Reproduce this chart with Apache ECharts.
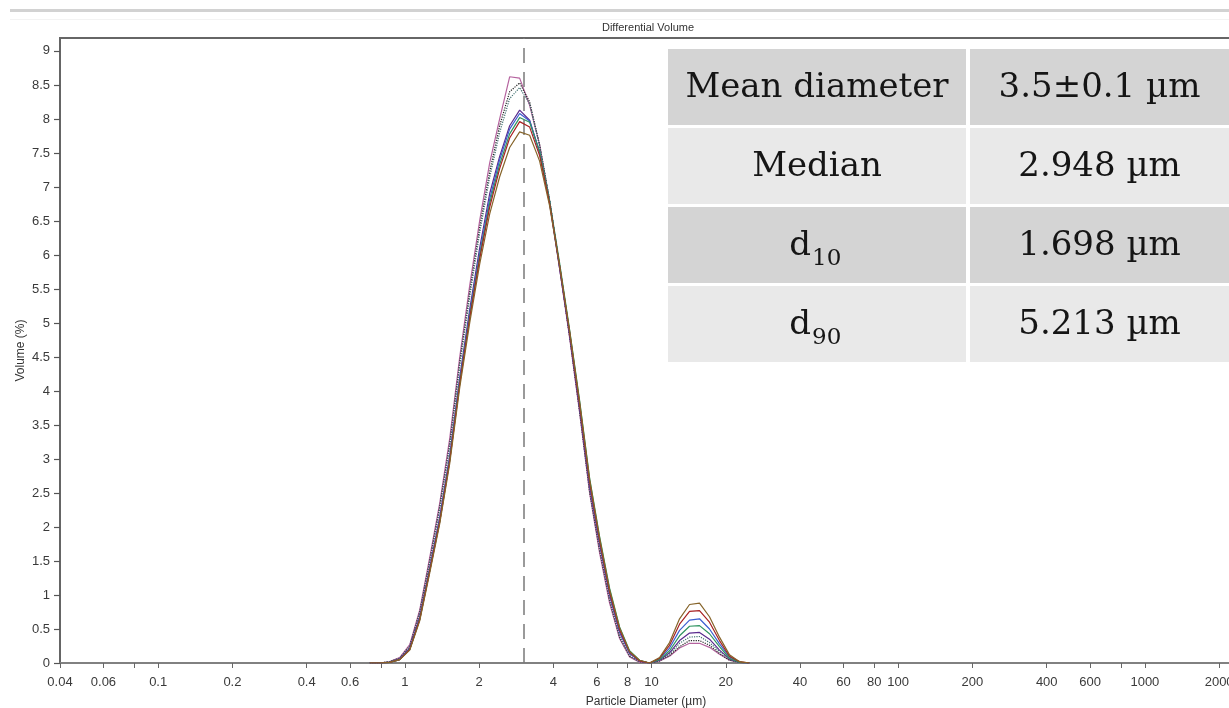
<!DOCTYPE html>
<html>
<head>
<meta charset="utf-8">
<script src="https://cdn.jsdelivr.net/npm/echarts@6/dist/echarts.min.js"></script>
<style>
  html, body { margin: 0; padding: 0; background: #ffffff; }
  #chart { width: 1229px; height: 708px; }
</style>
</head>
<body>
<div id="chart"></div>
<script>
// Particle size bins (µm)
const diameters = [0.721, 0.791, 0.868, 0.953, 1.047, 1.149, 1.261, 1.385, 1.520, 1.669,
  1.832, 2.010, 2.207, 2.423, 2.660, 2.920, 3.206, 3.519, 3.863, 4.241,
  4.656, 5.111, 5.611, 6.159, 6.761, 7.422, 8.148, 8.944, 9.819, 10.78,
  11.83, 12.99, 14.26, 15.65, 17.18, 18.86, 20.71, 22.73, 24.95];

// Differential volume (%) of each run, one value per bin
const run1 = [0, 0, 0.02, 0.08, 0.27, 0.78, 1.55, 2.35, 3.30, 4.50,
  5.55, 6.50, 7.35, 8.00, 8.62, 8.60, 8.20, 7.62, 6.80, 5.80,
  4.78, 3.68, 2.50, 1.62, 0.88, 0.36, 0.09, 0.01, 0, 0.03,
  0.10, 0.22, 0.29, 0.29, 0.23, 0.13, 0.04, 0.01, 0];
const run2 = [0, 0, 0.02, 0.07, 0.25, 0.75, 1.50, 2.30, 3.22, 4.42,
  5.45, 6.40, 7.22, 7.90, 8.40, 8.53, 8.25, 7.62, 6.80, 5.82,
  4.80, 3.70, 2.52, 1.66, 0.92, 0.38, 0.10, 0.02, 0, 0.03,
  0.11, 0.24, 0.33, 0.33, 0.26, 0.14, 0.04, 0.01, 0];
const run3 = [0, 0, 0.02, 0.07, 0.24, 0.73, 1.47, 2.26, 3.18, 4.36,
  5.38, 6.32, 7.14, 7.80, 8.30, 8.46, 8.22, 7.60, 6.80, 5.83,
  4.82, 3.72, 2.55, 1.70, 0.95, 0.40, 0.11, 0.02, 0, 0.04,
  0.13, 0.29, 0.38, 0.39, 0.30, 0.17, 0.05, 0.01, 0];
const run4 = [0, 0, 0.01, 0.06, 0.22, 0.68, 1.40, 2.15, 3.05, 4.20,
  5.20, 6.10, 6.90, 7.45, 7.90, 8.13, 7.98, 7.50, 6.75, 5.80,
  4.82, 3.75, 2.60, 1.75, 1.00, 0.45, 0.14, 0.03, 0, 0.04,
  0.15, 0.33, 0.44, 0.45, 0.35, 0.19, 0.06, 0.01, 0];
const run5 = [0, 0, 0.01, 0.05, 0.20, 0.65, 1.36, 2.10, 3.00, 4.15,
  5.14, 6.02, 6.82, 7.40, 7.85, 8.08, 7.97, 7.52, 6.78, 5.84,
  4.86, 3.80, 2.64, 1.78, 1.02, 0.47, 0.15, 0.03, 0, 0.06,
  0.22, 0.48, 0.63, 0.65, 0.50, 0.28, 0.09, 0.01, 0];
const run6 = [0, 0, 0.01, 0.05, 0.20, 0.64, 1.35, 2.08, 2.98, 4.12,
  5.10, 5.98, 6.76, 7.33, 7.78, 8.02, 7.95, 7.52, 6.80, 5.88,
  4.90, 3.86, 2.72, 1.86, 1.10, 0.53, 0.18, 0.04, 0, 0.05,
  0.18, 0.40, 0.54, 0.55, 0.43, 0.24, 0.07, 0.01, 0];
const run7 = [0, 0, 0.01, 0.05, 0.20, 0.64, 1.35, 2.08, 2.97, 4.10,
  5.07, 5.94, 6.70, 7.27, 7.72, 7.96, 7.88, 7.46, 6.76, 5.84,
  4.86, 3.80, 2.66, 1.80, 1.04, 0.49, 0.16, 0.03, 0, 0.07,
  0.26, 0.57, 0.76, 0.77, 0.60, 0.33, 0.10, 0.02, 0];
const run8 = [0, 0, 0.01, 0.05, 0.19, 0.62, 1.32, 2.05, 2.93, 4.05,
  5.00, 5.86, 6.60, 7.15, 7.58, 7.81, 7.76, 7.38, 6.72, 5.84,
  4.88, 3.84, 2.70, 1.84, 1.08, 0.52, 0.17, 0.04, 0, 0.08,
  0.30, 0.65, 0.86, 0.88, 0.68, 0.38, 0.12, 0.02, 0];

const runs = [run1, run2, run3, run4, run5, run6, run7, run8];
const runColors = ['#b5639f', '#222222', '#3f6f70', '#5b2c8f', '#3d5fd0', '#2f9460', '#a82222', '#86642a'];
const runDashes = ['solid', 'dotted', 'dotted', 'solid', 'solid', 'solid', 'solid', 'solid'];

// Axis ticks and labels
const xTickLabels = [0.04, 0.06, 0.1, 0.2, 0.4, 0.6, 1, 2, 4, 6, 8, 10, 20, 40, 60, 80, 100, 200, 400, 600, 1000, 2000];
const xMinorTicks = [0.08, 0.8, 800];
const yTickLabels = [0, 0.5, 1, 1.5, 2, 2.5, 3, 3.5, 4, 4.5, 5, 5.5, 6, 6.5, 7, 7.5, 8, 8.5, 9];
const referenceDiameter = 3.04;

// Summary statistics
const statNames = ['Mean diameter', 'Median', 'd', 'd'];
const statSubscripts = ['', '', '10', '90'];
const statValues = ['3.5±0.1 µm', '2.948 µm', '1.698 µm', '5.213 µm'];

const sansFont = "'Liberation Sans Narrow', 'Arial Narrow', 'Liberation Sans', Arial, sans-serif";
const serifFont = "'DejaVu Serif', serif";

const chart = echarts.init(document.getElementById('chart'), null, { renderer: 'canvas' });

const series = runs.map((vals, k) => ({
  type: 'line',
  name: 'Run ' + (k + 1),
  data: diameters.map((d, i) => [d, vals[i]]),
  symbol: 'none',
  smooth: false,
  lineStyle: { color: runColors[k], width: 1.2, type: runDashes[k] },
  z: 3 + k
}));

series.push({
  type: 'line',
  name: 'reference',
  data: [],
  markLine: {
    silent: true,
    symbol: ['none', 'none'],
    label: { show: false },
    lineStyle: { color: '#7a7a7a', type: [15, 9], width: 1.5 },
    data: [{ xAxis: referenceDiameter }]
  },
  z: 2
});

// Table of statistics drawn as graphic elements
const tableLeft = 668, colSplit = 966, colGap = 4, tableRight = 1229;
const rowTop = 49, rowPitch = 79, rowHeight = 76;
const tableGraphics = [];
statNames.forEach((name, i) => {
  const y0 = rowTop + i * rowPitch;
  const fill = i % 2 === 0 ? '#d4d4d4' : '#e9e9e9';
  const cy = y0 + rowHeight / 2 + 1;
  tableGraphics.push({ type: 'rect', shape: { x: tableLeft, y: y0, width: colSplit - tableLeft, height: rowHeight }, style: { fill }, silent: true });
  tableGraphics.push({ type: 'rect', shape: { x: colSplit + colGap, y: y0, width: tableRight - colSplit - colGap, height: rowHeight }, style: { fill }, silent: true });
  const midL = (tableLeft + colSplit) / 2;
  const midR = (colSplit + colGap + tableRight) / 2;
  if (statSubscripts[i]) {
    tableGraphics.push({ type: 'text', x: midL - 6, y: cy, style: { text: name, font: '34px ' + serifFont, fill: '#151515', align: 'right', verticalAlign: 'middle' }, silent: true });
    tableGraphics.push({ type: 'text', x: midL - 5, y: cy + 13, style: { text: statSubscripts[i], font: '23px ' + serifFont, fill: '#151515', align: 'left', verticalAlign: 'middle' }, silent: true });
  } else {
    tableGraphics.push({ type: 'text', x: midL, y: cy, style: { text: name, font: '34px ' + serifFont, fill: '#151515', align: 'center', verticalAlign: 'middle' }, silent: true });
  }
  tableGraphics.push({ type: 'text', x: midR, y: cy, style: { text: statValues[i], font: '34px ' + serifFont, fill: '#151515', align: 'center', verticalAlign: 'middle' }, silent: true });
});

const fmt = v => String(+Number(v).toPrecision(6));

chart.setOption({
  animation: false,
  backgroundColor: '#ffffff',
  grid: {
    left: 60, right: -3, top: 38, bottom: 45,
    outerBoundsMode: 'none', containLabel: false,
    show: true, borderColor: '#666666', borderWidth: 2, backgroundColor: 'transparent'
  },
  xAxis: {
    type: 'log',
    logBase: 10,
    min: 0.04,
    max: 2255,
    name: 'Particle Diameter (µm)',
    nameLocation: 'middle',
    nameGap: 33,
    nameMoveOverlap: false,
    nameTextStyle: { fontFamily: sansFont, fontSize: 12, color: '#333333' },
    axisLine: { show: true, lineStyle: { color: '#8a8a8a', width: 1.5 } },
    axisTick: { show: true, length: 5, inside: false, lineStyle: { color: '#666666', width: 1 }, customValues: xTickLabels.concat(xMinorTicks) },
    axisLabel: { customValues: xTickLabels, formatter: fmt, fontFamily: sansFont, fontSize: 13, color: '#3a3a3a', margin: 13 },
    splitLine: { show: false },
    minorTick: { show: false }
  },
  yAxis: {
    type: 'value',
    min: 0,
    max: 9.19,
    name: 'Volume (%)',
    nameLocation: 'middle',
    nameRotate: 90,
    nameGap: 33,
    nameMoveOverlap: false,
    nameTextStyle: { fontFamily: sansFont, fontSize: 12, color: '#333333' },
    axisLine: { show: true, lineStyle: { color: '#666666', width: 1.5 } },
    axisTick: { show: true, length: 6, lineStyle: { color: '#555555', width: 1.2 }, customValues: yTickLabels },
    axisLabel: { customValues: yTickLabels, formatter: fmt, fontFamily: sansFont, fontSize: 13, color: '#3a3a3a', margin: 10 },
    splitLine: { show: false }
  },
  series: series,
  graphic: [
    { type: 'rect', shape: { x: 10, y: 9, width: 1219, height: 3 }, style: { fill: '#d2d2d2' }, silent: true },
    { type: 'rect', shape: { x: 10, y: 19, width: 1219, height: 1 }, style: { fill: '#f3f3f3' }, silent: true },
    { type: 'text', x: 648, y: 28, style: { text: 'Differential Volume', font: '11px ' + sansFont, fill: '#333333', align: 'center', verticalAlign: 'middle' }, silent: true }
  ].concat(tableGraphics)
});
</script>
</body>
</html>
